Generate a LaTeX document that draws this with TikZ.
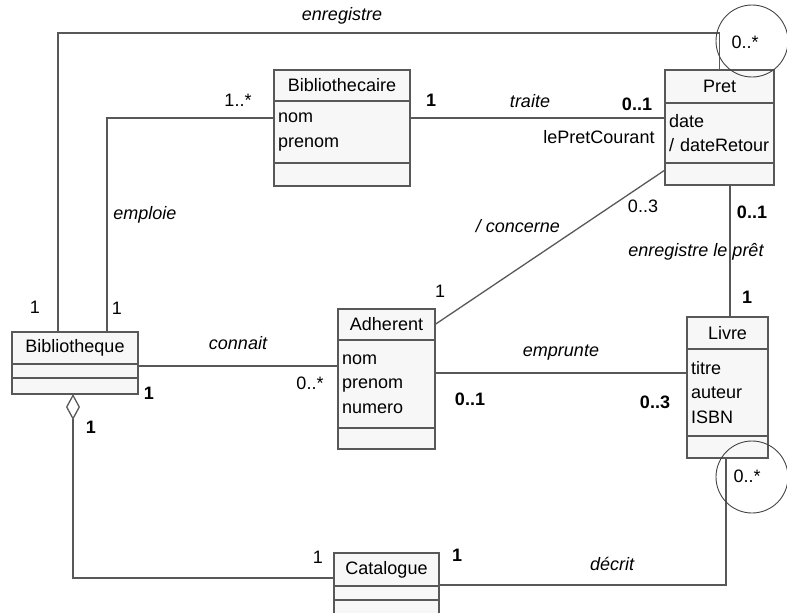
\documentclass[tikz,border=0pt]{standalone}
\usepackage{fontspec}
\setmainfont{Liberation Sans}
\usetikzlibrary{arrows.meta,positioning}
\definecolor{umlLine}{HTML}{585858}
\definecolor{umlFill}{HTML}{F7F7F7}
\definecolor{umlRing}{HTML}{444444}

\begin{document}
\begin{tikzpicture}[
  x=1pt, y=-1pt,
  every node/.style={font=\fontsize{18}{24.5}\selectfont},
  hd/.style={draw=umlLine,fill=umlFill,line width=1.6pt,outer sep=0pt,inner sep=0pt,anchor=north west},
  cp/.style={draw=umlLine,fill=umlFill,line width=1.6pt,outer sep=0pt,inner ysep=0pt,inner xsep=4pt,align=left,below=0pt of #1},
  as/.style={draw=umlLine,line width=1.3pt},
  role/.style={font=\fontsize{18}{22}\selectfont\itshape},
  mu/.style={},
  mub/.style={font=\fontsize{18}{22}\selectfont\bfseries},
  ring/.style={circle,draw=umlRing,line width=0.9pt,minimum size=72pt,inner sep=0pt},
]
  \useasboundingbox (0,0) rectangle (787,613);

  % classes
  \node[hd,minimum width=136pt,minimum height=31pt] (bibliothecaire) at (274,70) {Bibliothecaire};
  \node[cp=bibliothecaire,text width=128pt,minimum height=62pt] (bibliothecaire-a) {nom\\prenom};
  \node[cp=bibliothecaire-a,text width=128pt,minimum height=23pt] (bibliothecaire-o) {};

  \node[hd,minimum width=109pt,minimum height=33pt] (pret) at (665,70) {Pret};
  \node[cp=pret,text width=101pt,minimum height=60pt] (pret-a) {date\\/ dateRetour};
  \node[cp=pret-a,text width=101pt,minimum height=22pt] (pret-o) {};

  \node[hd,minimum width=126pt,minimum height=32pt] (bibliotheque) at (12,332) {Bibliotheque};
  \node[cp=bibliotheque,text width=118pt,minimum height=14pt] (bibliotheque-a) {};
  \node[cp=bibliotheque-a,text width=118pt,minimum height=16pt] (bibliotheque-o) {};

  \node[hd,minimum width=97pt,minimum height=31pt] (adherent) at (338,309) {Adherent};
  \node[cp=adherent,text width=89pt,minimum height=88pt] (adherent-a) {nom\\prenom\\numero};
  \node[cp=adherent-a,text width=89pt,minimum height=21pt] (adherent-o) {};

  \node[hd,minimum width=81pt,minimum height=32pt] (livre) at (687,317) {Livre};
  \node[cp=livre,text width=73pt,minimum height=87pt] (livre-a) {titre\\auteur\\ISBN};
  \node[cp=livre-a,text width=73pt,minimum height=22pt] (livre-o) {};

  \node[hd,minimum width=105pt,minimum height=33pt] (catalogue) at (334,553) {Catalogue};
  \node[cp=catalogue,text width=97pt,minimum height=14pt] (catalogue-a) {};
  \node[cp=catalogue-a,text width=97pt,minimum height=25pt] (catalogue-o) {};

  % associations
  \draw[as] (bibliotheque.north -| 58,0) |- (pret.north |- 0,33) -- (pret.north);
  \draw[as] (bibliotheque.north -| 107,0) |- (bibliothecaire-a.west |- 0,118);
  \draw[as] (bibliothecaire-a.east |- 0,118) -- (pret-a.west |- 0,118);
  \draw[as] (bibliotheque.east |- 0,366) -- (adherent-a.west |- 0,366);
  \draw[as] (adherent.east) -- (pret-o.west |- 0,170);
  \draw[as] (adherent-a.east |- 0,373) -- (livre-a.west |- 0,373);
  \draw[as] (pret-o.south -| 730,0) -- (livre.north -| 730,0);
  \draw[as,{Diamond[open,length=26pt,width=14pt]}-] (bibliotheque-o.south -| 73,0) |- (catalogue.west |- 0,578);
  \draw[as] (catalogue.east |- 0,585) -| (livre-o.south -| 726,0);

  % rings
  \node[ring] (ring-pret) at (752,41) {};
  \node[ring] (ring-livre) at (752,477) {};

  % labels
  \node[role] (r-enregistre) at (342,16) {enregistre};
  \node[mu] (m-bc-many) at (238,100) {1..*};
  \node[mub] (m-bc-one) at (431,100) {1};
  \node[role] (r-traite) at (530,101) {traite};
  \node[mub] (m-pret-traite) at (637,104) {0..1};
  \node[mu] (n-courant) at (599,137) {lePretCourant};
  \node[role] (r-emploie) at (145,215) {emploie};
  \node[mu] (m-bq-enreg) at (35,307) {1};
  \node[mu] (m-bq-emploie) at (117,308) {1};
  \node[role] (r-connait) at (238,343) {connait};
  \node[mu] (m-ad-connait) at (310,383) {0..*};
  \node[mub] (m-bq-connait) at (149,393) {1};
  \node[role] (r-concerne) at (518,226) {/ concerne};
  \node[mu] (m-pret-concerne) at (643,206) {0..3};
  \node[mub] (m-pret-livre) at (752,212) {0..1};
  \node[role] (r-enreg-pret) at (696,252) {enregistre le prêt};
  \node[mu] (m-ad-concerne) at (440,291) {1};
  \node[mub] (m-livre-pret) at (747,297) {1};
  \node[role] (r-emprunte) at (561,353) {emprunte};
  \node[mub] (m-ad-emprunte) at (470,399) {0..1};
  \node[mub] (m-livre-emprunte) at (655,402) {0..3};
  \node[mu] (m-pret-enreg) at (745,42) {0..*};
  \node[mu] (m-livre-decrit) at (747,476) {0..*};
  \node[mub] (m-bq-cat) at (91,427) {1};
  \node[mu] (m-cat-bq) at (318,557) {1};
  \node[mub] (m-cat-livre) at (457,555) {1};
  \node[role] (r-decrit) at (612,564) {décrit};
\end{tikzpicture}
\end{document}
